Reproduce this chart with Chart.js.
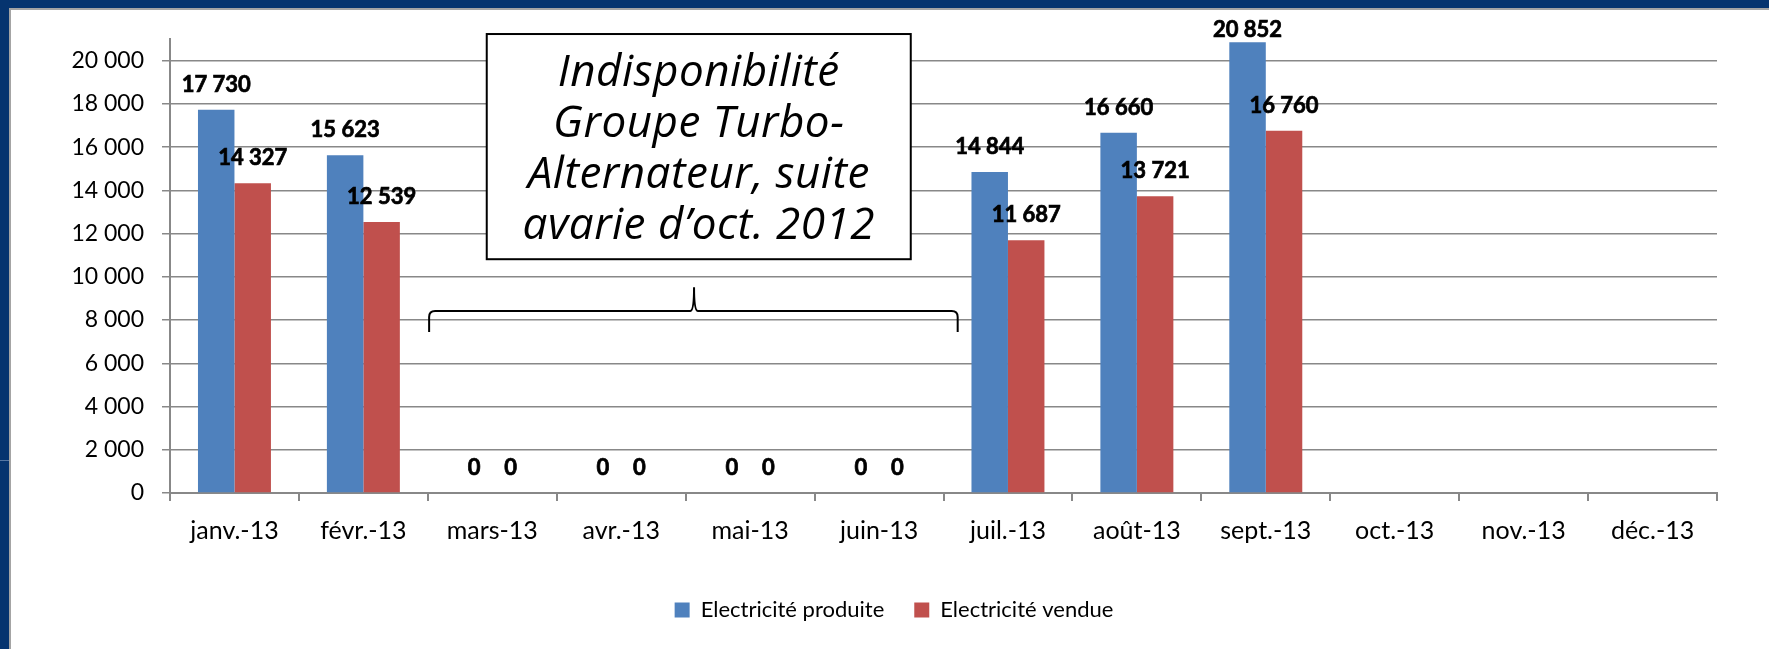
<!DOCTYPE html>
<html lang="fr">
<head>
<meta charset="utf-8">
<title>Electricité produite / vendue 2013</title>
<script src="https://cdn.jsdelivr.net/npm/chart.js@4.4.1/dist/chart.umd.min.js"></script>
<style>
    html, body { margin: 0; padding: 0; }
    body {
        width: 1769px;
        height: 649px;
        background: #06346f;
        position: relative;
        overflow: hidden;
    }
    .slide-line {
        position: absolute;
        left: 0; top: 460px;
        width: 9px; height: 1px;
        background: #5677a3;
    }
    .frame {
        position: absolute;
        left: 9px; top: 8px;
        right: 0; bottom: 0;
        border-left: 2px solid #a4a4a4;
        border-top: 2px solid #a4a4a4;
        background: #fff;
    }
    canvas { display: block; }
</style>
</head>
<body>
<div class="slide-line"></div>
<div class="frame">
    <canvas id="elecChart" width="1758" height="639"></canvas>
</div>
<script>
// Data (MWh, 2013)
const months = ['janv.-13', 'févr.-13', 'mars-13', 'avr.-13', 'mai-13', 'juin-13',
                'juil.-13', 'août-13', 'sept.-13', 'oct.-13', 'nov.-13', 'déc.-13'];
const produite = [17730, 15623, 0, 0, 0, 0, 14844, 16660, 20852, null, null, null];
const vendue   = [14327, 12539, 0, 0, 0, 0, 11687, 13721, 16760, null, null, null];
const seriesNames = ['Electricité produite', 'Electricité vendue'];
const yTicks = [0, 2000, 4000, 6000, 8000, 10000, 12000, 14000, 16000, 18000, 20000];
const yMax = 21000;
const noteLines = ['Indisponibilité', 'Groupe Turbo-', 'Alternateur, suite', 'avarie d\u2019oct. 2012'];

const BLUE = '#4f81bd';
const RED = '#c0504d';
const GRID = '#888888';
const FONT = 'Lato, "Open Sans", sans-serif';

function fmt(v) {
    return String(v).replace(/\B(?=(\d{3})+(?!\d))/g, ' ');
}

// value labels above each bar (also the zeros), kept inside the top of the plot
const barLabels = {
    id: 'barLabels',
    afterDatasetsDraw(chart) {
        const ctx = chart.ctx;
        const minY = chart.chartArea.top - 9;
        ctx.save();
        ctx.font = 'bold 22px ' + FONT;
        ctx.fillStyle = '#000';
        ctx.strokeStyle = '#000';
        ctx.lineWidth = 0.7;
        ctx.textAlign = 'center';
        ctx.textBaseline = 'middle';
        chart.data.datasets.forEach((ds, i) => {
            const meta = chart.getDatasetMeta(i);
            meta.data.forEach((bar, j) => {
                const v = ds.data[j];
                if (v === null || v === undefined) return;
                const y = Math.max(bar.y - 25, minY);
                ctx.fillText(fmt(v), bar.x, y);
                ctx.strokeText(fmt(v), bar.x, y);
            });
        });
        ctx.restore();
    }
};

// text box + brace over the missing months
const outageNote = {
    id: 'outageNote',
    afterDraw(chart) {
        const ctx = chart.ctx;
        const xs = chart.scales.x;
        const ys = chart.scales.y;

        // box
        const bx1 = xs.getPixelForValue(1.957);
        const bx2 = xs.getPixelForValue(5.246);
        const by1 = ys.getPixelForValue(21230);
        const by2 = ys.getPixelForValue(10814);
        ctx.save();
        ctx.fillStyle = '#fff';
        ctx.fillRect(bx1, by1, bx2 - bx1, by2 - by1);
        ctx.strokeStyle = '#000';
        ctx.lineWidth = 2;
        ctx.strokeRect(bx1, by1, bx2 - bx1, by2 - by1);

        ctx.fillStyle = '#000';
        ctx.font = 'italic 44px "Open Sans", "DejaVu Sans", sans-serif';
        ctx.letterSpacing = '0.5px';
        ctx.textAlign = 'center';
        ctx.textBaseline = 'alphabetic';
        const cx = (bx1 + bx2) / 2;
        noteLines.forEach((line, i) => {
            ctx.fillText(line, cx, by1 + 52 + i * 51);
        });
        ctx.letterSpacing = '0px';

        // brace
        const x1 = xs.getPixelForValue(1.51);
        const x2 = xs.getPixelForValue(5.61);
        const xp = xs.getPixelForValue(3.565);
        const yl = ys.getPixelForValue(8414);
        const ye = ys.getPixelForValue(7445);
        const yp = ys.getPixelForValue(9522);
        const r = 6;
        ctx.lineWidth = 2;
        ctx.beginPath();
        ctx.moveTo(x1, ye);
        ctx.lineTo(x1, yl + r);
        ctx.quadraticCurveTo(x1, yl, x1 + r, yl);
        ctx.lineTo(xp - 4, yl);
        ctx.quadraticCurveTo(xp, yl, xp, yp);
        ctx.quadraticCurveTo(xp, yl, xp + 4, yl);
        ctx.lineTo(x2 - r, yl);
        ctx.quadraticCurveTo(x2, yl, x2, yl + r);
        ctx.lineTo(x2, ye);
        ctx.stroke();
        ctx.restore();
    }
};

// legend is centred on the whole frame, not on the padded layout box
const legendShift = {
    id: 'legendShift',
    afterLayout(chart) {
        chart.legend.left += 30;
        chart.legend.right += 30;
    }
};

const chart = new Chart(document.getElementById('elecChart'), {
    type: 'bar',
    data: {
        labels: months,
        datasets: [{
            label: seriesNames[0],
            data: produite,
            backgroundColor: BLUE,
            barPercentage: 1,
            categoryPercentage: 0.566
        }, {
            label: seriesNames[1],
            data: vendue,
            backgroundColor: RED,
            barPercentage: 1,
            categoryPercentage: 0.566
        }]
    },
    options: {
        responsive: false,
        animation: false,
        layout: {
            padding: { left: 0, right: 52, top: 29, bottom: 18 }
        },
        plugins: {
            legend: {
                display: true,
                position: 'bottom',
                labels: {
                    color: '#000',
                    font: { family: FONT, size: 22 },
                    boxWidth: 15,
                    boxHeight: 15,
                    padding: 30
                }
            },
            tooltip: { enabled: false }
        },
        scales: {
            x: {
                afterFit: (s) => { s.height = 76; },
                grid: {
                    offset: true,
                    drawOnChartArea: false,
                    drawTicks: true,
                    tickLength: 8,
                    color: GRID,
                    lineWidth: 2
                },
                border: { color: GRID, width: 2 },
                ticks: {
                    color: '#000',
                    padding: 15,
                    maxRotation: 0,
                    autoSkip: false,
                    font: { family: FONT, size: 25 }
                }
            },
            y: {
                min: 0,
                max: yMax,
                afterFit: (s) => {
                    s.width = 159;
                    s.paddingTop = 0;
                    s.paddingBottom = 0;
                },
                afterBuildTicks: (s) => { s.ticks = yTicks.map(v => ({ value: v })); },
                grid: {
                    color: GRID,
                    lineWidth: 1.5,
                    tickLength: 8
                },
                border: { color: GRID, width: 2 },
                ticks: {
                    color: '#000',
                    padding: 18,
                    font: { family: FONT, size: 23 },
                    callback: (v) => fmt(v)
                }
            }
        }
    },
    plugins: [barLabels, outageNote, legendShift]
});
</script>
</body>
</html>
